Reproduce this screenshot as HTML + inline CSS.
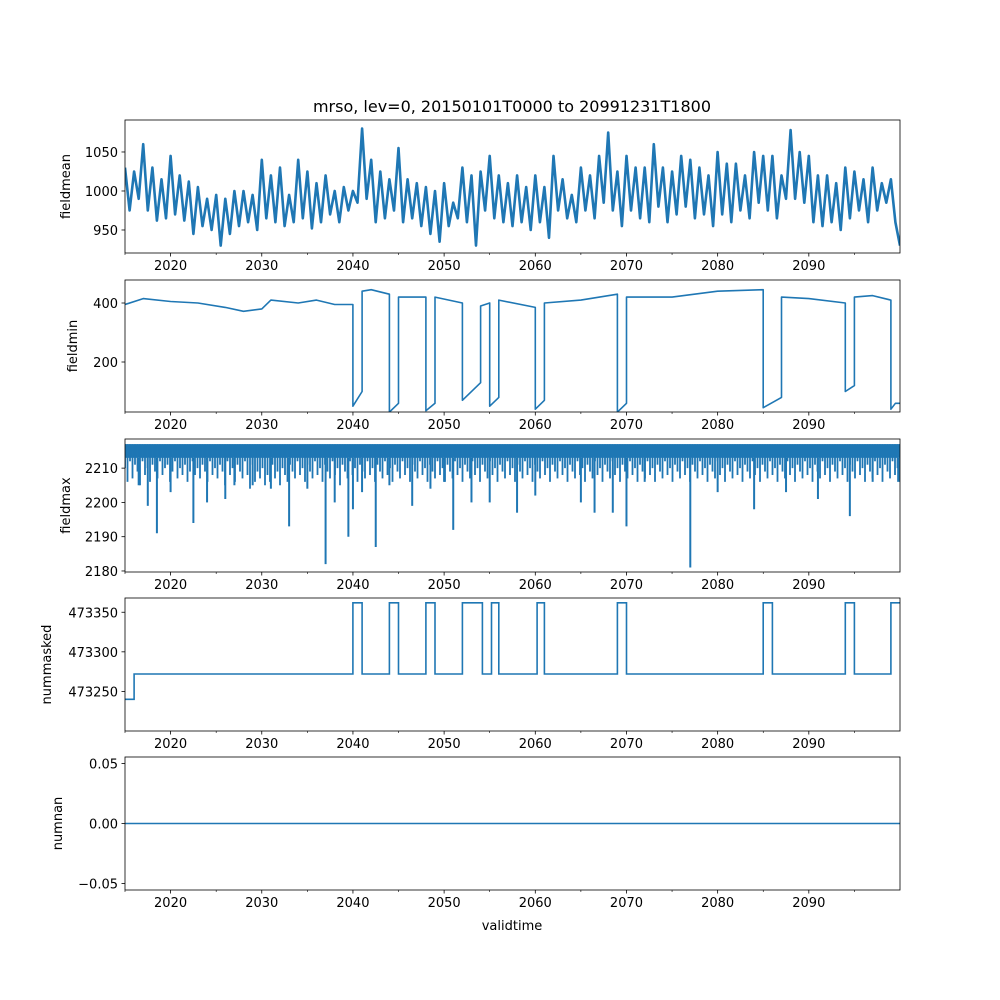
<!DOCTYPE html>
<html><head><meta charset="utf-8"><style>
body{margin:0;background:#fff;}
svg{display:block;font-family:"DejaVu Sans","Liberation Sans",sans-serif;}
</style></head><body>
<svg id="chart" width="1000" height="1000" viewBox="0 0 1000 1000">
<rect width="1000" height="1000" fill="#fff"/>
<text x="512" y="112" font-size="16" text-anchor="middle">mrso, lev=0, 20150101T0000 to 20991231T1800</text>
</svg>
<script>
// ---- data ----
const meanStart = 2015, meanStep = 0.5;
const meanValues = [1030,975,1025,990,1060,975,1030,962,1015,965,1045,970,1020,962,1012,945,1005,955,990,950,995,930,990,945,1000,955,1000,960,995,950,1040,965,1020,960,1030,955,995,960,1040,965,1025,952,1010,960,1020,970,1000,960,1005,975,1000,985,1080,990,1040,960,1025,965,1015,975,1055,960,1015,965,1010,955,1005,945,1000,935,1010,955,985,965,1030,960,1020,930,1025,975,1045,965,1020,960,1010,955,1020,960,1005,950,1020,960,1005,940,1045,975,1015,965,995,960,1030,975,1020,965,1045,985,1075,975,1025,955,1045,975,1030,965,1030,960,1060,980,1030,960,1025,970,1045,980,1040,965,1030,970,1020,955,1050,970,1035,960,1035,975,1020,965,1050,985,1045,975,1045,965,1020,990,1078,990,1050,985,1045,960,1020,955,1020,960,1010,950,1030,965,1025,975,1015,960,1030,975,1010,985,1015,960,930];
const minYears = [2015,2017,2020,2023,2026,2028,2030,2031,2034,2036,2038,2040,2040,2041,2041,2042,2044,2044,2045,2045,2048,2048,2049,2049,2052,2052,2054,2054,2055,2055,2056,2056,2060,2060,2061,2061,2065,2069,2069,2070,2070,2075,2080,2085,2085,2087,2087,2090,2094,2094,2095,2095,2097,2099,2099,2099.5,2100];
const minValues = [395,415,405,400,385,372,380,410,400,410,395,395,50,100,440,445,430,30,60,420,420,35,60,420,400,70,130,390,400,50,80,410,385,40,70,400,410,430,30,60,420,420,440,445,45,80,420,415,400,100,120,420,425,410,40,60,60];
const maxBandLow = 2213, maxBandHigh = 2217;
const fringeValues = [2210,2206,2212,2207,2211,2209,2205,2212,2208,2210,2206,2211,2209,2207,2212,2208,2210,2211,2206,2209,2212,2207,2210,2208,2211,2206,2209,2212,2208,2210,2207,2211,2209,2206,2212,2208,2210,2207,2211,2209,2205,2212,2208,2210,2206,2211,2209,2207,2212,2208,2204,2211,2206,2209,2207,2210,2205,2208,2206,2211,2207,2209,2205,2210,2208,2206,2211,2209,2207,2212,2208,2210,2206,2211,2209,2207,2212,2208,2210,2206,2211,2209,2207,2212,2208,2210,2205,2211,2209,2207,2212,2208,2210,2206,2211,2209,2207,2212,2208,2210,2206,2211,2209,2207,2212,2208,2210,2206,2211,2209,2207,2212,2208,2210,2206,2211,2209,2207,2212,2208,2210,2206,2211,2209,2207,2212,2208,2210,2206,2211,2209,2207,2212,2208,2210,2206,2211,2209,2207,2212,2208,2210,2206,2211,2209,2207,2212,2208,2210,2206,2211,2209,2207,2212,2208,2210,2206,2211,2209,2207,2212,2208,2210,2206,2211,2209,2207,2212,2208,2210,2206,2211,2209,2207,2212,2208,2210,2206,2211,2209,2207,2212,2208,2210,2206,2211,2209,2207,2212,2208,2210,2206,2211,2209,2207,2212,2208,2210,2206,2211,2209,2207,2212,2208,2210,2206,2211,2209,2207,2212,2208,2210,2206,2211,2209,2207,2212,2208,2210,2206,2211,2209,2207,2212,2208,2210,2206,2211,2209,2207,2212,2208,2210,2206,2211,2209,2207,2212,2208,2210,2206,2211,2209,2207,2212,2208,2210,2206,2211,2209,2207,2212,2208,2210,2206,2211,2209,2207,2212,2208,2210,2206,2211,2209,2207,2212,2208,2210,2206,2211,2209,2207,2212,2208,2210,2206,2211,2209,2207,2212,2208,2210,2206,2211,2209,2207,2212,2208,2210,2206,2211,2209,2207,2212,2208,2210,2206,2211,2209,2207,2212,2208,2210,2206,2211,2209,2207,2212,2208,2210,2206];
const fringeStart = 2015, fringeEnd = 2100;
const spikeYears = [2016.5,2017.5,2018.5,2020,2022.5,2024,2026,2027,2029,2031,2033,2035,2037,2038,2039.5,2040,2041,2042.5,2044,2046.5,2048.5,2050,2051,2053,2055,2058,2060,2065,2066.5,2068.5,2070,2072,2077,2080,2084,2087.5,2091,2094.5,2097,2099.8];
const spikeValues = [2205,2199,2191,2203,2194,2200,2201,2205,2205,2204,2193,2204,2182,2200,2190,2198,2203,2187,2205,2199,2204,2206,2192,2200,2200,2197,2202,2200,2197,2197,2193,2206,2181,2203,2198,2203,2201,2196,2206,2206];
const maskYears = [2015,2016,2040,2041,2044,2045,2048,2049,2052,2054.2,2055.2,2056,2060.2,2061,2069,2070,2085,2086,2094,2095,2099];
const maskValues = [473240,473272,473362,473272,473362,473272,473362,473272,473362,473272,473362,473272,473362,473272,473362,473272,473362,473272,473362,473272,473362];
const xTicks = [2020,2030,2040,2050,2060,2070,2080,2090];
const xMinor = [2015,2025,2035,2045,2055,2065,2075,2085,2095];
const ticks1 = [950,1000,1050], ticks2=[200,400], ticks3=[2180,2190,2200,2210], ticks4=[473250,473300,473350], ticks5=[-0.05,0,0.05];

const NS="http://www.w3.org/2000/svg", svg=document.getElementById('chart');
const L=125,R=900, X0=2015,X1=2100, C="#1f77b4";
const xs=y=>L+(y-X0)/(X1-X0)*(R-L);
function mk(t,a,p){const e=document.createElementNS(NS,t);for(const k in a)e.setAttribute(k,a[k]);(p||svg).appendChild(e);return e;}
function panel(name,top,bot,ymin,ymax,ticks,fmt,label,labelX){
  const g=mk('g',{});
  
  
  const ys=v=>bot-(v-ymin)/(ymax-ymin)*(bot-top);
  ticks.forEach(v=>{const y=ys(v);mk('line',{x1:L-3.5,x2:L,y1:y,y2:y,stroke:'#000','stroke-width':0.8},g);
    const t=mk('text',{x:L-7,y:y+5,'font-size':13,'text-anchor':'end'},g);t.textContent=fmt(v);
    
    });
  xTicks.forEach(v=>{const x=xs(v);mk('line',{x1:x,x2:x,y1:bot,y2:bot+3.5,stroke:'#000','stroke-width':0.8},g);
    const t=mk('text',{x:x,y:bot+17,'font-size':13,'text-anchor':'middle'},g);t.textContent=v;
    
    });
  xMinor.forEach(v=>{const x=xs(v);mk('line',{x1:x,x2:x,y1:bot,y2:bot+2,stroke:'#000','stroke-width':0.6},g);});
  const yl=mk('text',{x:labelX,y:(top+bot)/2,'font-size':13,'text-anchor':'middle',transform:`rotate(-90 ${labelX} ${(top+bot)/2})`},g);
  yl.textContent=label;
  
  
  mk('clipPath',{id:'c'+name},g).appendChild(mk('rect',{x:L,y:top,width:R-L,height:bot-top},g));
  const dg=mk('g',{'clip-path':`url(#c${name})`},g);
  return {g,dg,ys,frame:()=>mk('rect',{x:L,y:top,width:R-L,height:bot-top,fill:'none',stroke:'#000','stroke-width':0.8},g)};
}
// panel 1
let p=panel('fieldmean',120,253,920.5,1091,ticks1,v=>v,'fieldmean',70);
let d=meanValues.map((v,i)=>(i?'L':'M')+xs(meanStart+i*meanStep).toFixed(1)+','+p.ys(v).toFixed(1)).join('');
let e=mk('path',{d,fill:'none',stroke:C,'stroke-width':2.6,'stroke-linejoin':'round'},p.dg);
p.frame();
// panel 2
p=panel('fieldmin',280,412,30.5,478,ticks2,v=>v,'fieldmin',77);
d=minValues.map((v,i)=>(i?'L':'M')+xs(minYears[i]).toFixed(1)+','+p.ys(v).toFixed(1)).join('');
e=mk('path',{d,fill:'none',stroke:C,'stroke-width':1.6,'stroke-linejoin':'round'},p.dg);
p.frame();
// panel 3
p=panel('fieldmax',439,572,2179.7,2218.5,ticks3,v=>v,'fieldmax',70);
e=mk('rect',{x:L,y:p.ys(maxBandHigh),width:R-L,height:p.ys(maxBandLow)-p.ys(maxBandHigh),fill:C},p.dg);

const fStep=(fringeEnd-fringeStart)/(fringeValues.length-1);
fringeValues.forEach((v,i)=>{const x=xs(fringeStart+i*fStep);
  const s=mk('line',{x1:x,x2:x,y1:p.ys(maxBandHigh),y2:p.ys(v),stroke:C,'stroke-width':1.8},p.dg);
  });
spikeYears.forEach((yr,i)=>{const x=xs(yr);const s=mk('line',{x1:x,x2:x,y1:p.ys(maxBandLow),y2:p.ys(spikeValues[i]),stroke:C,'stroke-width':2},p.dg);
  });
p.frame();
// panel 4
p=panel('nummasked',598,731,473200,473368,ticks4,v=>v,'nummasked',51);
d='';maskValues.forEach((v,i)=>{const x0=xs(maskYears[i]),x1=xs(i+1<maskYears.length?maskYears[i+1]:X1),y=p.ys(v).toFixed(1);d+=(i?'L':'M')+x0.toFixed(1)+','+y+'L'+x1.toFixed(1)+','+y;});
e=mk('path',{d,fill:'none',stroke:C,'stroke-width':1.6},p.dg);
p.frame();
// panel 5
p=panel('numnan',757,890,-0.0555,0.0555,ticks5,v=>v.toFixed(2).replace('-','\u2212'),'numnan',62);
e=mk('line',{x1:L,x2:R,y1:p.ys(0),y2:p.ys(0),stroke:C,'stroke-width':1.6},p.dg);
p.frame();
const xl=mk('text',{x:512,y:930,'font-size':13,'text-anchor':'middle'});xl.textContent='validtime';

</script>
</body></html>
